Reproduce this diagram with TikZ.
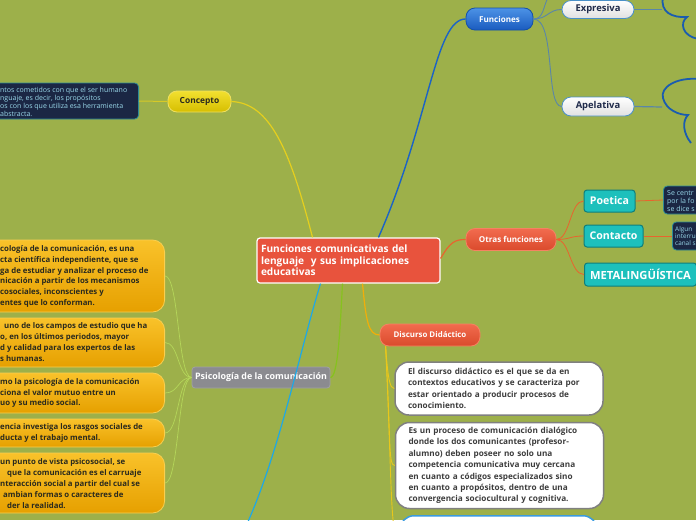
\documentclass[tikz,border=0pt]{standalone}
\usepackage{fontspec}
\setmainfont{Open Sans}
\definecolor{bg}{RGB}{157,176,74}
\definecolor{rootred}{HTML}{E8533D}
\definecolor{otrtop}{HTML}{F26B4E}
\definecolor{otrbot}{HTML}{DA4A2C}
\definecolor{otrline}{HTML}{F58262}
\definecolor{funtop}{HTML}{4C92E6}
\definecolor{funbot}{HTML}{1A5BBF}
\definecolor{funline}{HTML}{1550A8}
\definecolor{contop}{HTML}{F2E030}
\definecolor{conbot}{HTML}{D6BE00}
\definecolor{conline}{HTML}{F0E060}
\definecolor{ytop}{HTML}{F9C22A}
\definecolor{ybot}{HTML}{E6A000}
\definecolor{yline}{HTML}{F9CF50}
\definecolor{psgray}{HTML}{8B8B90}
\definecolor{psline}{HTML}{A0A0A5}
\definecolor{teal}{HTML}{1DC0BC}
\definecolor{tealline}{HTML}{0E7E7C}
\definecolor{navy}{HTML}{1B2744}
\definecolor{navyline}{HTML}{2D8A96}
\definecolor{cyantext}{HTML}{9AD8EA}
\definecolor{darktext}{HTML}{2A2A1E}
\definecolor{graytext}{HTML}{3C3C3C}
\definecolor{navytext}{HTML}{1F2A4A}
\definecolor{wline}{HTML}{808080}
\definecolor{expline}{HTML}{4A90C8}
\definecolor{cblue}{HTML}{1B63C6}
\definecolor{ccyan}{HTML}{1EA8E6}
\definecolor{cgreen}{HTML}{86C21E}
\definecolor{cyellow}{HTML}{E5CF1E}
\definecolor{corange}{HTML}{E8642E}
\definecolor{cgold}{HTML}{F0AE0A}
\definecolor{lgreen}{HTML}{B5D65A}
\definecolor{bluegray}{HTML}{5A86A8}
\definecolor{cloudblue}{HTML}{1A5CB0}
\definecolor{wb3line}{HTML}{3A9BE0}
\begin{document}
\begin{tikzpicture}[x=1pt,y=-1pt,
  pill/.style={rounded corners=9pt, draw, line width=0.8pt, inner sep=0pt, text=white,
    font=\bfseries\fontsize{8.1}{9}\selectfont},
  funpill/.style={pill, top color=funtop, bottom color=funbot, draw=funline},
  otrpill/.style={pill, top color=otrtop, bottom color=otrbot, draw=otrline},
  whitepill/.style={pill, top color=white, bottom color=black!12, draw=expline, text=navytext,
    font=\bfseries\fontsize{9.4}{11}\selectfont},
  conpill/.style={pill, top color=contop, bottom color=conbot, draw=conline, text=darktext,
    font=\bfseries\fontsize{8.4}{9}\selectfont},
  tealbox/.style={rounded corners=3pt, fill=teal, draw=tealline, line width=1pt, inner sep=0pt,
    text=white, font=\bfseries\fontsize{10.6}{12}\selectfont},
  navybox/.style={rounded corners=4pt, fill=navy, draw=navyline, line width=0.8pt, inner sep=0pt},
  navytxt/.style={inner sep=0pt, align=left, text=cyantext, font=\fontsize{7}{8}\selectfont},
  ybox/.style={rounded corners=12pt, top color=ytop, bottom color=ybot, draw=yline, line width=0.8pt, inner sep=0pt},
  ytxt/.style={inner sep=0pt, align=left, text=darktext, font=\bfseries\fontsize{7.8}{10.8}\selectfont},
  wbox/.style={rounded corners=14pt, fill=white, draw=wline, line width=1.5pt, inner xsep=13pt, inner ysep=0pt,
    text width=182pt, align=left, text=graytext, font=\bfseries\fontsize{8.2}{11.4}\selectfont},
  conn/.style={line width=1pt}
]
\useasboundingbox (0,0) rectangle (696,520);
\clip (0,0) rectangle (696,520);
\fill[bg] (0,0) rectangle (696,520);

% ---------- nodes ----------
\node[draw=white, line width=1.2pt, fill=rootred, rounded corners=3pt, minimum width=183pt, minimum height=45pt,
  text width=175pt, inner xsep=4pt, inner ysep=0pt, align=left, text=white,
  font=\bfseries\fontsize{10.1}{11.5}\selectfont] (root) at (348.5,260.5)
  {Funciones comunicativas del\\lenguaje\ \ y sus implicaciones\\educativas};

\node[funpill, minimum width=67pt, minimum height=22pt] (fun) at (499.5,19) {Funciones};
\node[whitepill, minimum width=72pt, minimum height=18pt] (exp) at (598,9.5) {Expresiva};
\node[whitepill, minimum width=72pt, minimum height=19pt] (ape) at (598,106.5) {Apelativa};
\coordinate (topchild) at (548,-2);
\coordinate (cloudA) at (662,9.5);
\coordinate (cloudB) at (662,107);

\node[otrpill, minimum width=90pt, minimum height=22pt] (otr) at (511,239.5) {Otras funciones};
\node[tealbox, minimum width=51pt, minimum height=22pt] (poe) at (609.5,201) {Poetica};
\node[tealbox, minimum width=59pt, minimum height=22pt] (con) at (613.5,236) {Contacto};
\node[tealbox, minimum width=112pt, minimum height=23pt, anchor=west, font=\bfseries\fontsize{11.2}{12}\selectfont] (meta) at (584,274.5) {METALINGÜÍSTICA};
\node[navybox, minimum width=70pt, minimum height=28pt, anchor=west] (navyP) at (663,200) {};
\node[navytxt, anchor=west] (navyPt) at (667,201) {Se centr\\por la fo\\se dice s};
\node[navybox, minimum width=70pt, minimum height=28pt, anchor=west] (navyC) at (672,236) {};
\node[navytxt, anchor=west, font=\fontsize{6.4}{7.4}\selectfont] (navyCt) at (675,236) {Algun\\interru\\canal s};

\node[conpill, minimum width=63pt, minimum height=21pt] (cpt) at (199.5,101.5) {Concepto};
\node[navybox, minimum width=160pt, minimum height=36pt, anchor=east] (cbox) at (139,101) {};
\node[navytxt, anchor=west] (cboxt) at (0,102) {ntos cometidos con que el ser humano\\nguaje, es decir, los propósitos\\os con los que utiliza esa herramienta\\abstracta.};

\node[rounded corners=3pt, fill=psgray, draw=psline, line width=0.8pt, minimum width=138pt, minimum height=21pt,
  inner sep=0pt, text=white, font=\bfseries\fontsize{8.9}{10}\selectfont] (psi) at (261,377.5) {Psicología de la comunicación};

\node[ybox, minimum width=190pt, minimum height=72pt, anchor=east] (y1) at (165,276) {};
\node[ytxt, anchor=west] (y1t) at (0,276.5) {cología de la comunicación, es una\\cta científica independiente, que se\\ga de estudiar y analizar el proceso de\\nicación a partir de los mecanismos\\cosociales, inconscientes y\\entes que lo conforman.};
\node[ybox, minimum width=190pt, minimum height=49pt, anchor=east] (y2) at (165,342.5) {};
\node[ytxt, anchor=west] (y2t) at (0,342) {\hspace*{4pt}uno de los campos de estudio que ha\\o, en los últimos periodos, mayor\\d y calidad para los expertos de las\\s humanas.};
\node[ybox, minimum width=190pt, minimum height=40pt, anchor=east] (y3) at (165,393) {};
\node[ytxt, anchor=west] (y3t) at (0,393) {mo la psicología de la comunicación\\ciona el valor mutuo entre un\\uo y su medio social.};
\node[ybox, minimum width=190pt, minimum height=28pt, anchor=east] (y4) at (165,433) {};
\node[ytxt, anchor=west] (y4t) at (0,433) {encia investiga los rasgos sociales de\\ducta y el trabajo mental.};
\node[ybox, minimum width=190pt, minimum height=60pt, anchor=east] (y5) at (165,483) {};
\node[ytxt, anchor=west] (y5t) at (0,483.5) {un punto de vista psicosocial, se\\\hspace*{7pt}que la comunicación es el carruaje\\nteracción social a partir del cual se\\\hspace*{3pt}ambian formas o caracteres de\\\hspace*{7pt}der la realidad.};

\node[otrpill, minimum width=100pt, minimum height=22pt, font=\bfseries\fontsize{7.9}{9}\selectfont] (dis) at (430,335) {Discurso Didáctico};
\node[wbox, minimum width=204pt, minimum height=53pt] (w1) at (499,388.5)
  {El discurso didáctico es el que se da en\\contextos educativos y se caracteriza por\\estar orientado a producir procesos de\\conocimiento.};
\node[wbox, minimum width=205pt, minimum height=86pt] (w2) at (499.5,465.5)
  {Es un proceso de comunicación dialógico\\donde los dos comunicantes (profesor-\\alumno) deben poseer no solo una\\competencia comunicativa muy cercana\\en cuanto a códigos especializados sino\\en cuanto a propósitos, dentro de una\\convergencia sociocultural y cognitiva.};
\node[rounded corners=14pt, fill=white, draw=wb3line, line width=1.5pt, minimum width=197pt, minimum height=50pt,
  inner sep=0pt, anchor=north] (w3) at (498.5,515) {};
\coordinate (bottomA) at (247,524);

% ---------- clouds ----------
\draw[cloudblue, line width=1.8pt] (663,-3) .. controls (660,12) and (672,18) .. (687,17)
  .. controls (680,22) and (681,36) .. (699,39);
\draw[cloudblue, line width=1.8pt] (699,79) .. controls (675,77) and (660,88) .. (663,98)
  .. controls (666,110) and (679,115) .. (688,115)
  .. controls (682,121) and (683,133) .. (691,143);

% ---------- connectors ----------
\draw[conn, cblue, line width=1.4pt] (root.north) ++(30,0) coordinate (r1) .. controls (430,120) and (435,19) .. (fun.west);
\draw[conn, cyellow, line width=1.2pt] (root.north) ++(-36,0) coordinate (r2) .. controls (290,150) and (270,103) .. (cpt.east);
\draw[conn, corange, line width=1.2pt] (root.east) ++(0,-2) coordinate (r3) .. controls (450,242) and (455,239.5) .. (otr.west);
\draw[conn, cgreen, line width=1.2pt] (root.south) ++(-6,0) coordinate (r4) .. controls (340,330) and (338,377) .. (psi.east);
\draw[conn, cgold, line width=1.2pt] (root.south) ++(14,0) coordinate (r5) .. controls (366,320) and (368,335) .. (dis.west);
\draw[conn, ccyan, line width=1.2pt] (root.south) ++(-28,0) coordinate (r6) .. controls (300,350) and (280,450) .. (bottomA);

\draw[conn, bluegray, line width=0.9pt] (fun.east) .. controls (548,19) and (548,9.5) .. (exp.west);
\draw[conn, bluegray, line width=0.9pt] (fun.east) .. controls (556,19) and (545,106.5) .. (ape.west);
\draw[conn, bluegray, line width=0.9pt] (fun.east) .. controls (544,19) and (543,6) .. (topchild);
\draw[conn, bluegray, line width=1.2pt] (exp.east) -- (cloudA);
\draw[conn, bluegray, line width=1.2pt] (ape.east) -- (cloudB);

\draw[conn, corange, line width=0.8pt] (otr.east) .. controls (570,239.5) and (570,201) .. (poe.west);
\draw[conn, corange, line width=0.8pt] (otr.east) .. controls (570,239.5) and (570,236) .. (con.west);
\draw[conn, corange, line width=0.8pt] (otr.east) .. controls (570,239.5) and (570,274.5) .. (meta.west);
\draw[conn, corange, line width=0.8pt] (poe.east) -- (navyP.west);
\draw[conn, corange, line width=0.8pt] (con.east) -- (navyC.west);

\draw[conn, cyellow!80!bg, line width=1pt] (cpt.west) -- (cbox.east);

\foreach \t in {y1,y2,y3,y4,y5}
  \draw[conn, lgreen, line width=0.7pt] (psi.west) .. controls +(-14,0) and +(14,0) .. (\t.east);

\draw[conn, cyellow!90!orange, line width=0.9pt] (dis.south west) ++(6,0) coordinate (d0) .. controls (388,380) and (390,388.5) .. (w1.west);
\draw[conn, cyellow!90!orange, line width=0.9pt] (d0) .. controls (391,440) and (388,465.5) .. (w2.west);
\draw[conn, cyellow!90!orange, line width=0.9pt] (d0) .. controls (392,480) and (390,540) .. (w3.west);
\end{tikzpicture}
\end{document}
